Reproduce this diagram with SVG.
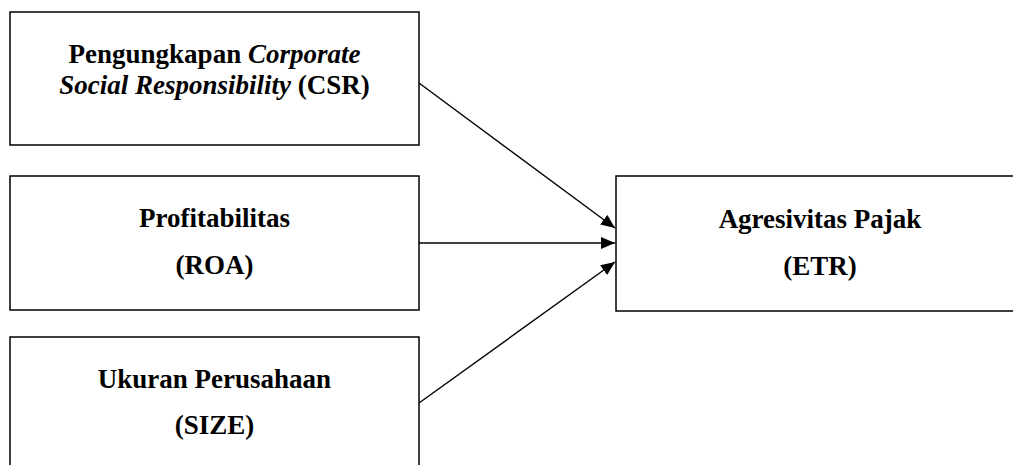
<svg xmlns="http://www.w3.org/2000/svg" width="1013" height="465" viewBox="0 0 1013 465">
  <style>
    .box { fill: #fff; stroke: #000; stroke-width: 1.5; }
    .t { font-family: "Liberation Serif", "Times New Roman", serif; font-weight: bold; font-size: 27px; fill: #000; text-anchor: middle; }
    .conn { stroke: #000; stroke-width: 1.4; fill: none; marker-end: url(#arrow); }
  </style>
  <defs>
    <marker id="arrow" markerUnits="userSpaceOnUse" markerWidth="14" markerHeight="12" refX="14" refY="6" orient="auto">
      <path d="M0,0 L14,6 L0,12 Z" fill="#000"/>
    </marker>
  </defs>
  <rect width="1013" height="465" fill="#fff"/>
  <g id="node-csr">
    <rect class="box" x="10" y="12" width="409" height="133"/>
    <text class="t" x="214.5" y="63">Pengungkapan <tspan font-style="italic">Corporate</tspan></text>
    <text class="t" x="214.5" y="94"><tspan font-style="italic">Social Responsibility</tspan> (CSR)</text>
  </g>
  <g id="node-roa">
    <rect class="box" x="10" y="176" width="409" height="134"/>
    <text class="t" x="214.5" y="227">Profitabilitas</text>
    <text class="t" x="214.5" y="274">(ROA)</text>
  </g>
  <g id="node-size">
    <rect class="box" x="10" y="337" width="409" height="140"/>
    <text class="t" x="214.5" y="388">Ukuran Perusahaan</text>
    <text class="t" x="214.5" y="434">(SIZE)</text>
  </g>
  <g id="node-etr">
    <rect class="box" x="616" y="176" width="420" height="135"/>
    <text class="t" x="820" y="228">Agresivitas Pajak</text>
    <text class="t" x="820" y="275">(ETR)</text>
  </g>
  <g id="connectors">
    <line class="conn" x1="419" y1="83" x2="615" y2="228"/>
    <line class="conn" x1="419" y1="243" x2="615" y2="243"/>
    <line class="conn" x1="419" y1="403" x2="615" y2="262"/>
  </g>
</svg>
